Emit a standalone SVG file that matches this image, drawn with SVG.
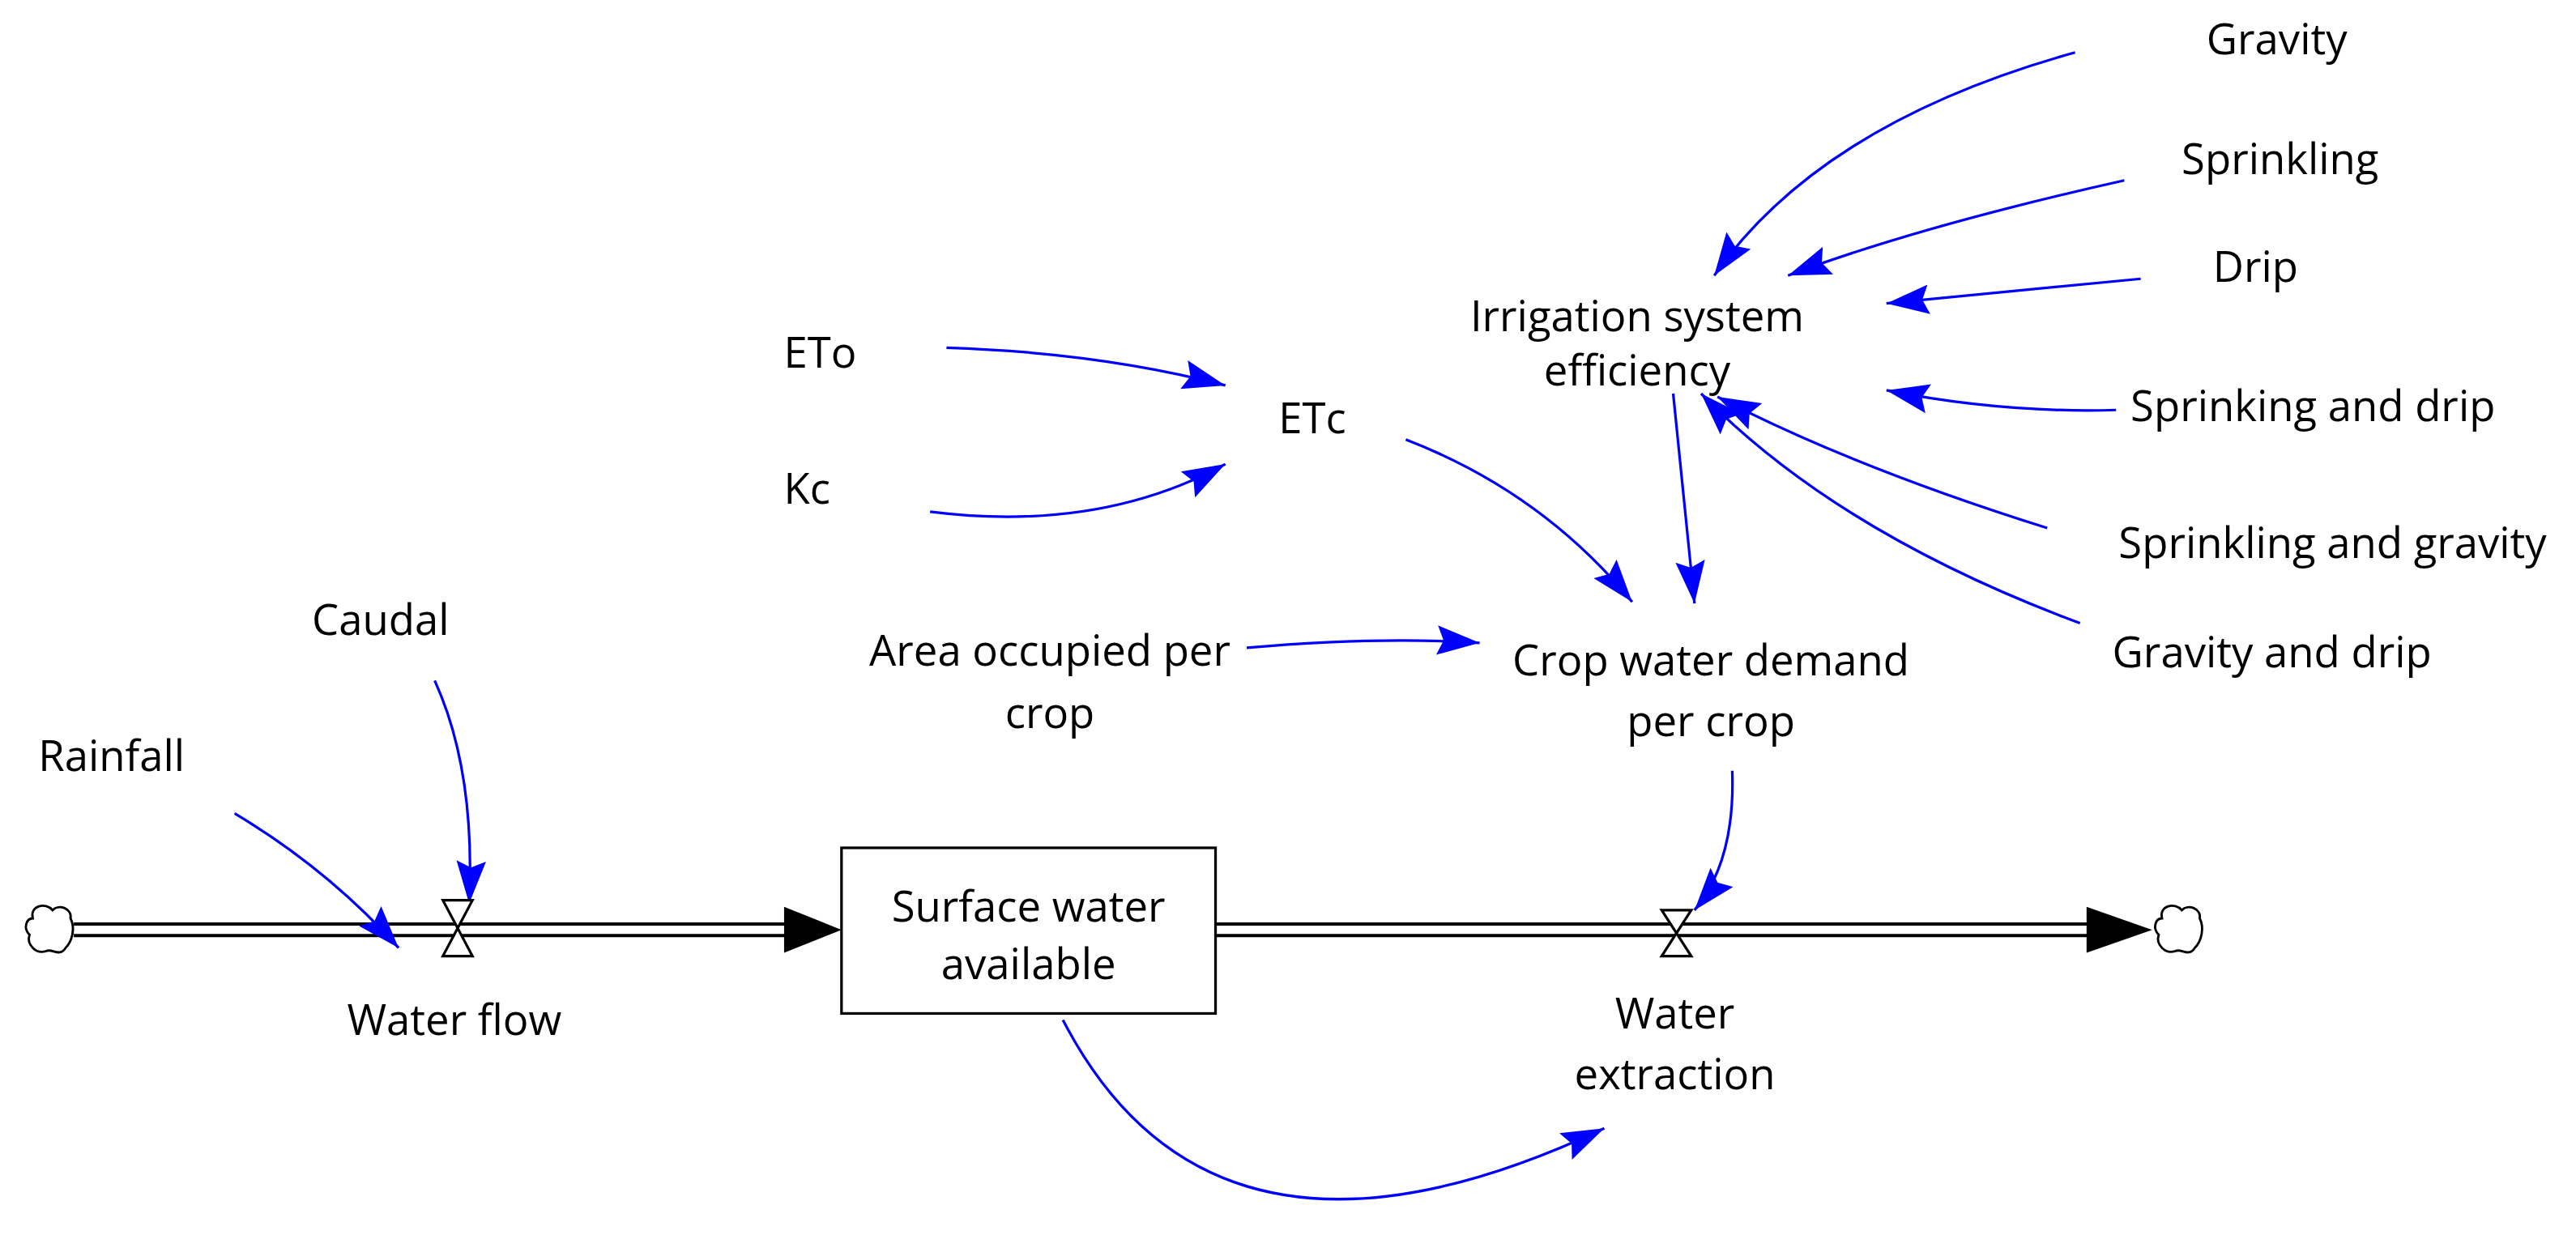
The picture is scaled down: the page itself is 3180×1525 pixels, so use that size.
<svg xmlns="http://www.w3.org/2000/svg" width="3180" height="1525" viewBox="0 0 3180 1525">
<style>
text{font-family:"Open Sans","DejaVu Sans",sans-serif;font-size:26px;fill:#000;text-anchor:middle}
.l{fill:none;stroke:#0000ff;stroke-width:1.6}
.v{fill:#fff;stroke:#000;stroke-width:1.6}
.c{fill:#fff;stroke:#000;stroke-width:1.4}
</style>
<defs>
<marker id="a" markerUnits="userSpaceOnUse" markerWidth="28" markerHeight="20" refX="26" refY="9" orient="auto"><path d="M0,0 L26,9 L0,18 L4,9 Z" fill="#0000ff"/></marker>
</defs>
<rect width="3180" height="1525" fill="#fff"/>
<g transform="scale(2.025)">
<g id="pipes">
<line x1="45" y1="567" x2="480" y2="567" stroke="#000" stroke-width="9"/>
<line x1="45" y1="567" x2="480" y2="567" stroke="#fff" stroke-width="5"/>
<polygon points="478,553 513,567 478,581" fill="#000"/>
<line x1="740" y1="567" x2="1275" y2="567" stroke="#000" stroke-width="9"/>
<line x1="740" y1="567" x2="1275" y2="567" stroke="#fff" stroke-width="5"/>
<polygon points="1272,553 1312,567 1272,581" fill="#000"/>
<path class="c" d="M20,560 C18,552 28,550 32,555 C36,551 44,554 43,560 C46,566 44,574 40,578 C36,584 32,578 28,580 C22,582 16,576 18,570 C14,566 16,560 20,560 Z"/>
<path class="c" d="M1318,560 C1316,552 1326,550 1330,555 C1334,551 1342,554 1341,560 C1344,566 1342,574 1338,578 C1334,584 1330,578 1326,580 C1320,582 1314,576 1316,570 C1312,566 1314,560 1318,560 Z"/>
</g>
<g id="connectors">
<path class="l" marker-end="url(#a)" d="M1265,32 Q1110,75 1045,168"/>
<path class="l" marker-end="url(#a)" d="M1295,110 Q1170,138 1090,168"/>
<path class="l" marker-end="url(#a)" d="M1305,170 L1150,185"/>
<path class="l" marker-end="url(#a)" d="M1290,250 Q1220,252 1150,238"/>
<path class="l" marker-end="url(#a)" d="M1248,322 Q1130,285 1047,242"/>
<path class="l" marker-end="url(#a)" d="M1268,380 Q1120,325 1037,240"/>
<path class="l" marker-end="url(#a)" d="M1020,240 L1033,368"/>
<path class="l" marker-end="url(#a)" d="M857,268 Q940,300 995,367"/>
<path class="l" marker-end="url(#a)" d="M577,212 Q670,215 747,235"/>
<path class="l" marker-end="url(#a)" d="M567,312 Q670,325 747,283"/>
<path class="l" marker-end="url(#a)" d="M760,395 Q840,388 902,392"/>
<path class="l" marker-end="url(#a)" d="M1056,470 Q1058,525 1033,555"/>
<path class="l" marker-end="url(#a)" d="M265,415 Q290,470 286,551"/>
<path class="l" marker-end="url(#a)" d="M143,496 Q200,530 243,578"/>
<path class="l" marker-end="url(#a)" d="M648,622 Q740,800 978,688"/>
</g>
<g id="water-flow"><path class="v" d="M270,549 H288 L270,583 H288 Z"/><text x="277" y="631">Water flow</text></g>
<g id="water-extraction"><path class="v" d="M1013,555 H1031 L1013,583 H1031 Z"/><text x="1021" y="627">Water</text><text x="1021" y="664">extraction</text></g>
<g id="surface-water"><rect x="513" y="517" width="228" height="101" fill="#fff" stroke="#000" stroke-width="1.6"/><text x="627" y="562">Surface water</text><text x="627" y="597">available</text></g>
<g id="gravity"><text x="1388" y="33">Gravity</text></g>
<g id="sprinkling"><text x="1390" y="106">Sprinkling</text></g>
<g id="drip"><text x="1375" y="172">Drip</text></g>
<g id="irrigation"><text x="998" y="202">Irrigation system</text><text x="998" y="235">efficiency</text></g>
<g id="sprinking-drip"><text x="1410" y="257">Sprinking and drip</text></g>
<g id="sprinkling-gravity"><text x="1422" y="340">Sprinkling and gravity</text></g>
<g id="gravity-drip"><text x="1385" y="407">Gravity and drip</text></g>
<g id="eto"><text x="500" y="224">ETo</text></g>
<g id="etc"><text x="800" y="264">ETc</text></g>
<g id="kc"><text x="492" y="307">Kc</text></g>
<g id="caudal"><text x="232" y="387">Caudal</text></g>
<g id="rainfall"><text x="68" y="470">Rainfall</text></g>
<g id="area"><text x="640" y="406">Area occupied per</text><text x="640" y="444">crop</text></g>
<g id="crop-demand"><text x="1043" y="412">Crop water demand</text><text x="1043" y="449">per crop</text></g>
</g>
</svg>
